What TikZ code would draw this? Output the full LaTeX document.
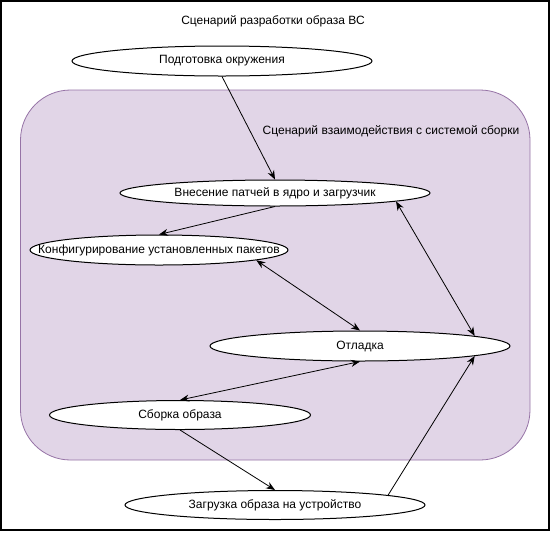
\documentclass[tikz,border=0pt]{standalone}
\usepackage{fontspec}
\setmainfont{Liberation Sans}
\usetikzlibrary{shapes.geometric,arrows.meta}
\definecolor{grpfill}{HTML}{E1D5E7}
\definecolor{grpdraw}{HTML}{9673A6}
\tikzset{
  usecase/.style={ellipse, draw=black, fill=white, line width=1pt, inner sep=0pt},
  conn/.style={draw=black, line width=0.8pt, -{Stealth[length=9pt,width=7pt]}},
  bconn/.style={draw=black, line width=0.8pt, {Stealth[length=9pt,width=7pt]}-{Stealth[length=9pt,width=7pt]}},
  txt/.style={inner sep=0pt, font=\fontsize{12}{14}\selectfont}
}
\begin{document}
\begin{tikzpicture}[x=1pt,y=-1pt,font=\fontsize{12}{14}\selectfont]
\useasboundingbox (0,0) rectangle (551,539);
\draw[line width=2pt,black] (1,1) rectangle (549,530);
\node[txt] (title) at (273,21) {Сценарий разработки образа ВС};
\draw[fill=grpfill, draw=grpdraw, line width=0.8pt, rounded corners=50pt] (20.5,90) rectangle (530,460);
\node[txt] (grplabel) at (391,131) {Сценарий взаимодействия с системой сборки};
\node[usecase, minimum width=300pt, minimum height=30pt] (prep) at (222,61) {\makebox[0pt]{Подготовка окружения}};
\node[usecase, minimum width=310pt, minimum height=26pt] (patch) at (275,193) {\makebox[0pt]{Внесение патчей в ядро и загрузчик}};
\node[usecase, minimum width=258pt, minimum height=30pt] (conf) at (159,250) {\makebox[0pt]{Конфигурирование установленных пакетов}};
\node[usecase, minimum width=300pt, minimum height=30pt] (debug) at (360,346) {\makebox[0pt]{Отладка}};
\node[usecase, minimum width=261pt, minimum height=29pt] (build) at (180,415) {\makebox[0pt]{Сборка образа}};
\node[usecase, minimum width=300pt, minimum height=29pt] (load) at (275,505) {\makebox[0pt]{Загрузка образа на устройство}};
\draw[conn] (prep.south) -- (patch.north);
\draw[conn] (patch.south) -- (conf.north);
\draw[bconn] (conf.-6.4) -- (debug.north);
\draw[bconn] (patch.-4.5) -- (debug.5.8);
\draw[bconn] (debug.south) -- (build.north);
\draw[conn] (build.south) -- (load.north);
\draw[conn] (load.5.5) -- (debug.-5.8);
\end{tikzpicture}
\end{document}
